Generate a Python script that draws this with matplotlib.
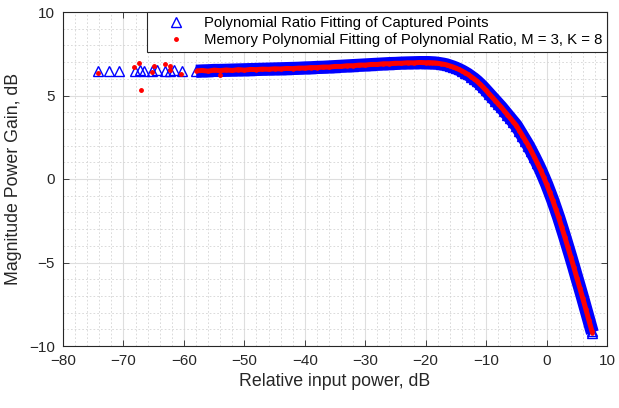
import matplotlib
matplotlib.use('Agg')
import matplotlib.pyplot as plt
from matplotlib.lines import Line2D
from matplotlib.ticker import MultipleLocator

plt.rcParams['font.family'] = ['Liberation Sans', 'DejaVu Sans']

# ---- data ----
# sparse low-power captured points (blue triangles)
sparse_in = [-74.2, -72.4, -70.8, -68.1, -67.3, -66.6, -65.3, -64.5, -63.1, -62.3, -61.6, -60.3]
sparse_gain = [6.48, 6.48, 6.48, 6.48, 6.5, 6.47, 6.48, 6.5, 6.48, 6.47, 6.5, 6.48]

# sparse low-power memory-polynomial points (red dots)
sparse_red_in = [-74.2, -68.2, -67.4, -67.1, -65.2, -64.9, -63.1, -62.3, -62.3, -60.5, -54.0]
sparse_red_gain = [6.33, 6.7, 6.97, 5.33, 6.4, 6.74, 6.87, 6.79, 6.5, 6.27, 6.25]

# dense AM/AM gain curve
curve_in = [-58, -57, -56, -55, -54, -53, -52, -51, -50, -49, -48, -47, -46, -45, -44,
            -43, -42, -41, -40, -39, -38, -37, -36, -35, -34, -33, -32, -31, -30, -29,
            -28, -27, -26, -25, -24, -23, -22, -21, -20,
            -19.5, -19, -18.5, -18, -17.5, -17, -16.5, -16, -15.5, -15, -14.5, -14,
            -13.5, -13, -12.5, -12, -11.5, -11, -10.5, -10, -9.5, -9, -8.5, -8, -7.5,
            -7, -6.5, -6, -5.5, -5, -4.5, -4, -3.5, -3, -2.5, -2, -1.5, -1, -0.5, 0,
            0.5, 1, 1.5, 2, 2.5, 3, 3.5, 4, 4.5, 5, 5.5, 6, 6.5, 7, 7.5, 7.6]
blue_gain = [6.45, 6.47, 6.48, 6.5, 6.5, 6.51, 6.52, 6.53, 6.54, 6.55, 6.56, 6.57, 6.58, 6.59, 6.6,
             6.61, 6.62, 6.63, 6.65, 6.66, 6.68, 6.69, 6.71, 6.73, 6.75, 6.77, 6.79, 6.81, 6.83, 6.85,
             6.87, 6.89, 6.91, 6.92, 6.94, 6.95, 6.96, 6.97, 6.97,
             6.97, 6.96, 6.95, 6.93, 6.9, 6.87, 6.83, 6.77, 6.71, 6.64, 6.56, 6.47,
             6.37, 6.26, 6.13, 6.0, 5.85, 5.68, 5.5, 5.3, 5.1, 4.9, 4.7, 4.5, 4.3,
             4.08, 3.86, 3.64, 3.42, 3.2, 2.9, 2.6, 2.3, 2.0, 1.65, 1.3, 0.93, 0.55, 0.13, -0.3,
             -0.77, -1.25, -1.77, -2.3, -2.87, -3.45, -4.05, -4.65, -5.27, -5.9, -6.52, -7.15, -7.8, -8.45, -9.1, -9.2]
red_gain = [6.47, 6.5, 6.46, 6.52, 6.49, 6.53, 6.5, 6.55, 6.52, 6.56, 6.55, 6.58, 6.57, 6.6, 6.59,
            6.62, 6.61, 6.64, 6.64, 6.67, 6.67, 6.7, 6.7, 6.74, 6.74, 6.78, 6.78, 6.82, 6.82, 6.86,
            6.86, 6.9, 6.9, 6.93, 6.93, 6.96, 6.95, 6.98, 6.96,
            6.97, 6.96, 6.95, 6.93, 6.9, 6.87, 6.83, 6.77, 6.71, 6.64, 6.56, 6.47,
            6.37, 6.26, 6.13, 6.0, 5.85, 5.68, 5.5, 5.3, 5.1, 4.9, 4.7, 4.5, 4.3,
            4.08, 3.86, 3.64, 3.42, 3.2, 2.9, 2.6, 2.3, 2.0, 1.65, 1.3, 0.93, 0.55, 0.13, -0.3,
            -0.77, -1.25, -1.77, -2.3, -2.87, -3.45, -4.05, -4.65, -5.27, -5.9, -6.52, -7.15, -7.8, -8.45, -9.1, -9.2]

labels = ['Polynomial Ratio Fitting of Captured Points',
          'Memory Polynomial Fitting of Polynomial Ratio, M = 3, K = 8']
xlabel = 'Relative input power, dB'
ylabel = 'Magnitude Power Gain, dB'

# ---- figure ----
fig = plt.figure(figsize=(6.19, 4.08), dpi=100)
ax = fig.add_axes([63 / 619, 1 - 346 / 408, (607 - 63) / 619, (346 - 12) / 408])

txt = '#262626'
blue = '#0000ff'
red = '#ff0000'

# blue captured points: dense band + triangles
ax.plot(curve_in, blue_gain, color=blue, lw=9.5, solid_capstyle='butt', zorder=2)
ax.plot(curve_in, blue_gain, ls='none', marker='^', ms=7.5, mfc='none', mec=blue, mew=1.0, zorder=2)
ax.plot(sparse_in, sparse_gain, ls='none', marker='^', ms=7.5, mfc='none', mec=blue, mew=1.0, zorder=2)

# red memory polynomial fit
ax.plot(curve_in, red_gain, color=red, lw=3.6, solid_capstyle='butt', zorder=3)
ax.plot(curve_in, red_gain, ls='none', marker='.', ms=4.5, color=red, zorder=3)
ax.plot(sparse_red_in, sparse_red_gain, ls='none', marker='.', ms=5, color=red, zorder=3)

ax.set_xlim(-80, 10)
ax.set_ylim(-10, 10)
ax.xaxis.set_major_locator(MultipleLocator(10))
ax.yaxis.set_major_locator(MultipleLocator(5))
ax.xaxis.set_minor_locator(MultipleLocator(2))
ax.yaxis.set_minor_locator(MultipleLocator(1))

ax.grid(True, which='major', color='#dedede', lw=0.8, ls='-', zorder=0)
ax.grid(True, which='minor', color='#d4d4d4', lw=0.6, ls=(0, (2, 2.5)), zorder=0)
ax.set_axisbelow(True)

ax.tick_params(which='major', direction='in', length=4, width=0.6, top=True, right=True,
               colors=txt, labelsize=11, pad=6)
ax.tick_params(which='minor', length=0, top=True, right=True)
for s in ax.spines.values():
    s.set_color('#262626')
    s.set_linewidth(0.8)

ax.set_xlabel(xlabel, fontsize=12.8, color=txt, labelpad=3)
ax.set_ylabel(ylabel, fontsize=12.8, color=txt, labelpad=5)

handles = [Line2D([], [], ls='none', marker='^', ms=7.5, mfc='none', mec=blue, mew=1.0),
           Line2D([], [], ls='none', marker='.', ms=5, color=red)]
leg = ax.legend(handles, labels, loc='upper right', bbox_to_anchor=(1.0, 1.0),
                borderaxespad=0.0, fontsize=10.7, frameon=True, fancybox=False,
                edgecolor='#262626', framealpha=1.0, handlelength=3.3, handletextpad=0.25,
                borderpad=0.3, labelspacing=0.2)
leg.get_frame().set_linewidth(0.8)
leg.set_zorder(5)

fig.savefig('out.png', dpi=100)
